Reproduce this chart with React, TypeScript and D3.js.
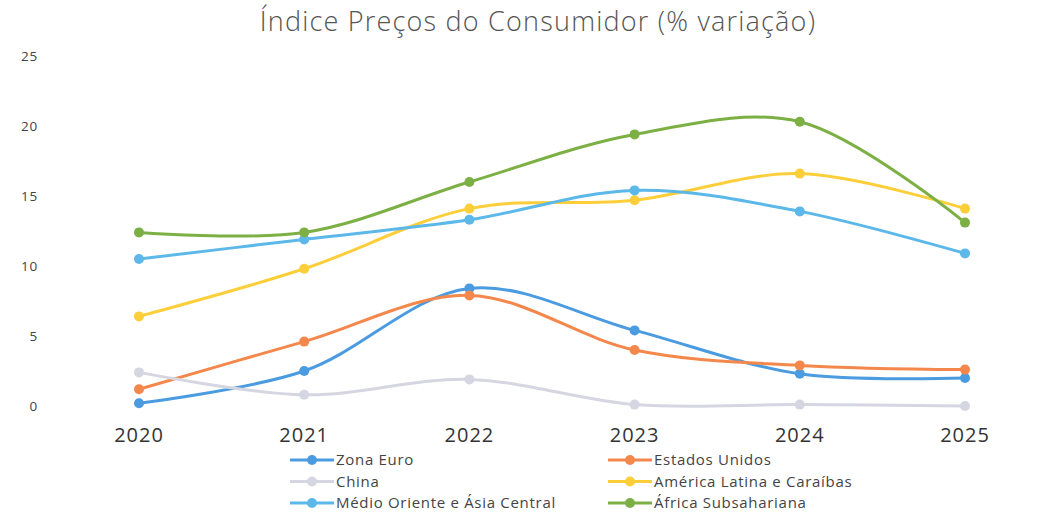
import React from "react";
import * as d3 from "d3";

const years = ["2020", "2021", "2022", "2023", "2024", "2025"];
const zonaEuro = [0.2, 2.5, 8.4, 5.4, 2.3, 2.0];
const estadosUnidos = [1.2, 4.6, 7.9, 4.0, 2.9, 2.6];
const china = [2.4, 0.8, 1.9, 0.1, 0.1, 0.0];
const americaLatina = [6.4, 9.8, 14.1, 14.7, 16.6, 14.1];
const medioOriente = [10.5, 11.9, 13.3, 15.4, 13.9, 10.9];
const africa = [12.4, 12.4, 16.0, 19.4, 20.3, 13.1];
const yTicks = [0, 5, 10, 15, 20, 25];

const series = [
  { name: "Zona Euro", values: zonaEuro, color: "#4b9be0" },
  { name: "Estados Unidos", values: estadosUnidos, color: "#f4884c" },
  { name: "China", values: china, color: "#d6d6e2" },
  { name: "América Latina e Caraíbas", values: americaLatina, color: "#fccf3a" },
  { name: "Médio Oriente e Ásia Central", values: medioOriente, color: "#5cb8e9" },
  { name: "África Subsahariana", values: africa, color: "#7db044" },
];

export default function App() {
  const ref = React.useRef<SVGSVGElement>(null);

  React.useEffect(() => {
    const width = 1064;
    const height = 516;
    const svg = d3.select(ref.current);
    svg.selectAll("*").remove();

    const x = d3.scalePoint().domain(years).range([139, 965]);
    const y = d3.scaleLinear().domain([0, 25]).range([406, 56]);

    svg.attr("width", width).attr("height", height);

    // title
    svg.append("text")
      .attr("x", 538)
      .attr("y", 31)
      .attr("text-anchor", "middle")
      .attr("font-family", "Open Sans, sans-serif")
      .attr("font-size", 27)
      .attr("font-weight", 300)
      .attr("letter-spacing", 1.2)
      .attr("fill", "#555")
      .text("Índice Preços do Consumidor (% variação)");

    // y tick labels
    svg.append("g")
      .selectAll("text")
      .data(yTicks)
      .join("text")
      .attr("x", 38)
      .attr("y", (d) => y(d) + 5)
      .attr("text-anchor", "end")
      .attr("font-family", "Open Sans, sans-serif")
      .attr("font-size", 13.5)
      .attr("letter-spacing", 0.8)
      .attr("fill", "#444")
      .text((d) => d);

    // x tick labels
    svg.append("g")
      .selectAll("text")
      .data(years)
      .join("text")
      .attr("x", (d) => x(d)!)
      .attr("y", 442)
      .attr("text-anchor", "middle")
      .attr("font-family", "Open Sans, sans-serif")
      .attr("font-size", 20)
      .attr("letter-spacing", 1)
      .attr("fill", "#333")
      .text((d) => d);

    const line = d3.line<number>()
      .x((_, i) => x(years[i])!)
      .y((d) => y(d))
      .curve(d3.curveCatmullRom.alpha(0.5));

    const g = svg.append("g");
    for (const s of series) {
      g.append("path")
        .attr("d", line(s.values))
        .attr("fill", "none")
        .attr("stroke", s.color)
        .attr("stroke-width", 3);
      g.append("g")
        .selectAll("circle")
        .data(s.values)
        .join("circle")
        .attr("cx", (_, i) => x(years[i])!)
        .attr("cy", (d) => y(d))
        .attr("r", 5)
        .attr("fill", s.color);
    }

    // legend
    const legend = svg.append("g");
    series.forEach((s, i) => {
      const col = i % 2;
      const row = Math.floor(i / 2);
      const lx = col === 0 ? 290 : 608;
      const ly = 460 + row * 21.5;
      legend.append("line")
        .attr("x1", lx).attr("x2", lx + 44)
        .attr("y1", ly).attr("y2", ly)
        .attr("stroke", s.color)
        .attr("stroke-width", 3);
      legend.append("circle")
        .attr("cx", lx + 22).attr("cy", ly)
        .attr("r", 5)
        .attr("fill", s.color);
      legend.append("text")
        .attr("x", lx + 46)
        .attr("y", ly + 5)
        .attr("font-family", "Open Sans, sans-serif")
        .attr("font-size", 15)
        .attr("letter-spacing", 0.7)
        .attr("fill", "#444")
        .text(s.name);
    });
  }, []);

  return <svg ref={ref} style={{ position: "absolute", left: 0, top: 0 }}></svg>;
}
